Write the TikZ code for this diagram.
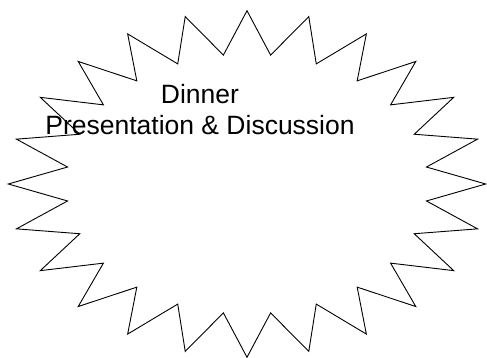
\documentclass[tikz,border=0pt]{standalone}
\usepackage{fontspec}
\setmainfont{Liberation Sans}

\begin{document}
\begin{tikzpicture}[x=1pt, y=1pt,
        % Outline of the burst, drawn as one closed path
        burst/.style={draw, line width=0.9pt, line join=miter},
        % Style for the text placed inside the burst
        labeltext/.style={font=\fontsize{26.5}{30}\selectfont, inner sep=0pt, anchor=base}
    ]
    \useasboundingbox (0,0) rectangle (487,358);

    % --- Burst: 24 tips on an outer ellipse, 24 notches on an inner one ---
    \draw[burst, shift={(247,174)}] (90:238.7 and 173.3)
        \foreach \a in {90,105,...,435} {
            -- ({\a+7.5}:181 and 130) -- ({\a+15}:238.7 and 173.3)
        } -- cycle;

    % --- Text ---
    % 1. First line
    \node[labeltext] (dinner) at (200,254) {Dinner};

    % 2. Second line (placed one line below the first)
    \node[labeltext] (talk) at ([yshift=-31pt]dinner.base) {Presentation \& Discussion};

\end{tikzpicture}
\end{document}
